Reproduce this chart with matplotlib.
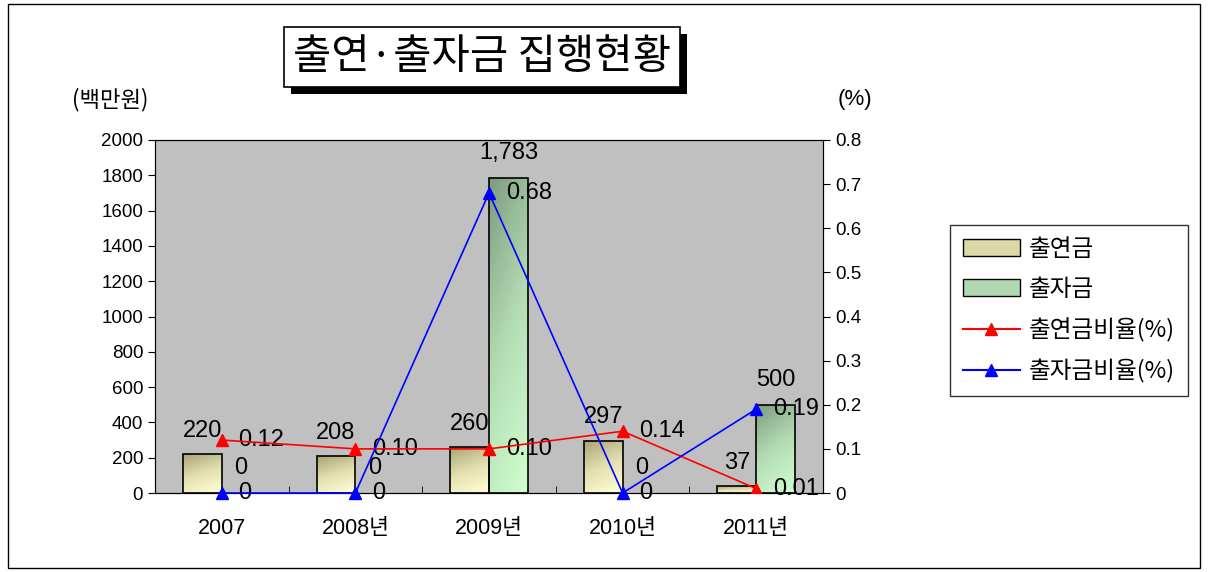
import numpy as np
import matplotlib
matplotlib.use('Agg')
import matplotlib.pyplot as plt
from matplotlib.patches import Rectangle, Patch
from matplotlib.lines import Line2D
from matplotlib.colors import LinearSegmentedColormap
from matplotlib import patheffects

plt.rcParams['font.family'] = ['Liberation Sans', 'Noto Sans CJK KR', 'DejaVu Sans']
KR = ['Noto Sans CJK KR', 'DejaVu Sans']

years = ['2007', '2008년', '2009년', '2010년', '2011년']
contrib = [220, 208, 260, 297, 37]          # 출연금
invest = [0, 0, 1783, 0, 500]               # 출자금
contrib_ratio = [0.12, 0.10, 0.10, 0.14, 0.01]
invest_ratio = [0.0, 0.0, 0.68, 0.0, 0.19]

fig = plt.figure(figsize=(12.08, 5.72), dpi=100)
ax = fig.add_axes([155 / 1208, 1 - 493 / 572, 668 / 1208, 353 / 572])
ax.set_facecolor('#C0C0C0')

x = np.arange(len(years))
w = 0.29

cmap_c = LinearSegmentedColormap.from_list('c', ['#A8A478', '#E4E0B0', '#FFFFD8'])
cmap_i = LinearSegmentedColormap.from_list('i', ['#7E9C7E', '#B4DCB4', '#D0FFD0'])


def gradient_bars(bars, cmap):
    gy, gx = np.mgrid[0:1:60j, 0:1:30j]
    grad = gy * 0.75 + gx * 0.25   # row 0 -> top of bar, darker at top-left
    for b in bars:
        h = b.get_height()
        if h <= 0:
            b.set_linewidth(0)
            continue
        x0 = b.get_x()
        im = ax.imshow(grad, cmap=cmap, extent=[x0, x0 + b.get_width(), 0, h],
                       aspect='auto', zorder=2, origin='upper')
        im.set_clip_path(b)


bars_c = ax.bar(x - w / 2, contrib, w, facecolor='none', edgecolor='black', lw=1.2, zorder=3)
bars_i = ax.bar(x + w / 2, invest, w, facecolor='none', edgecolor='black', lw=1.2, zorder=3)
gradient_bars(bars_c, cmap_c)
gradient_bars(bars_i, cmap_i)

ax.set_xlim(-0.5, len(years) - 0.5)
ax.set_ylim(0, 2000)
ax.set_yticks(np.arange(0, 2001, 200))
ax.set_xticks(x)
ax.set_xticklabels(years, fontsize=15.5)
ax.set_xticks(np.arange(0.5, len(years) - 0.5, 1), minor=True)
ax.tick_params(axis='x', which='major', length=0, pad=18)
ax.tick_params(axis='x', which='minor', direction='in', length=5)
ax.tick_params(axis='y', labelsize=13.5, length=5, direction='out')
for s in ax.spines.values():
    s.set_color('black')

for b, v in zip(bars_c, contrib):
    ax.annotate(f'{v:,}', (b.get_x() + b.get_width() / 2, v), xytext=(0, 9),
                textcoords='offset points', ha='center', va='bottom', fontsize=17, zorder=6)
for b, v in zip(bars_i, invest):
    ax.annotate(f'{v:,}', (b.get_x() + b.get_width() / 2, v), xytext=(0, 10),
                textcoords='offset points', ha='center', va='bottom', fontsize=17, zorder=6)

ax2 = ax.twinx()
ax2.set_ylim(0, 0.8)
ax2.set_yticks(np.arange(0, 0.81, 0.1))
ax2.set_yticklabels(['0'] + [f'{v:.1f}' for v in np.arange(0.1, 0.81, 0.1)])
ax2.tick_params(axis='y', labelsize=13.5, length=5, direction='out')
ax2.plot(x, contrib_ratio, color='#FF0000', marker='^', ms=8, lw=1.2, zorder=4)
ax2.plot(x, invest_ratio, color='#0000FF', marker='^', ms=8, lw=1.2, zorder=4, clip_on=False)
for xi, v in zip(x, contrib_ratio):
    ax2.annotate(f'{v:.2f}', (xi, v), xytext=(12, 0), textcoords='offset points',
                 ha='left', va='center', fontsize=17)
for xi, v in zip(x, invest_ratio):
    ax2.annotate('0' if v == 0 else f'{v:.2f}', (xi, v), xytext=(12, 0),
                 textcoords='offset points', ha='left', va='center', fontsize=17)

fig.text(110 / 1208, 1 - 100 / 572, '(백만원)', ha='center', va='center', fontsize=16, family=KR)
fig.text(855 / 1208, 1 - 100 / 572, '(%)', ha='center', va='center', fontsize=16)

t = fig.text(482 / 1208, 1 - 57 / 572, '출연·출자금 집행현황', ha='center', va='center',
             fontsize=30, family=KR,
             bbox=dict(boxstyle='square,pad=0.22', facecolor='white', edgecolor='black', lw=1.2))
t.get_bbox_patch().set_path_effects([
    patheffects.SimplePatchShadow(offset=(5, -5), shadow_rgbFace='black', alpha=1.0),
    patheffects.Normal()])

handles = [
    Patch(facecolor='#DCD8A8', edgecolor='black', label='출연금'),
    Patch(facecolor='#B0D8B0', edgecolor='black', label='출자금'),
    Line2D([], [], color='#FF0000', marker='^', ms=8, label='출연금비율(%)'),
    Line2D([], [], color='#0000FF', marker='^', ms=8, label='출자금비율(%)'),
]
leg = fig.legend(handles=handles, loc='upper left', bbox_to_anchor=(950 / 1208, 1 - 225 / 572),
                 prop={'family': KR, 'size': 17}, frameon=True, fancybox=False, edgecolor='black',
                 handlelength=2.4, labelspacing=0.72, borderpad=0.55, handletextpad=0.4,
                 borderaxespad=0)
leg.get_frame().set_linewidth(1.0)

fig.patches.append(Rectangle((8 / 1208, 4 / 572), 1192 / 1208, 564 / 572, transform=fig.transFigure,
                             fill=False, edgecolor='black', lw=1.0))

fig.savefig('out.png', dpi=100)
